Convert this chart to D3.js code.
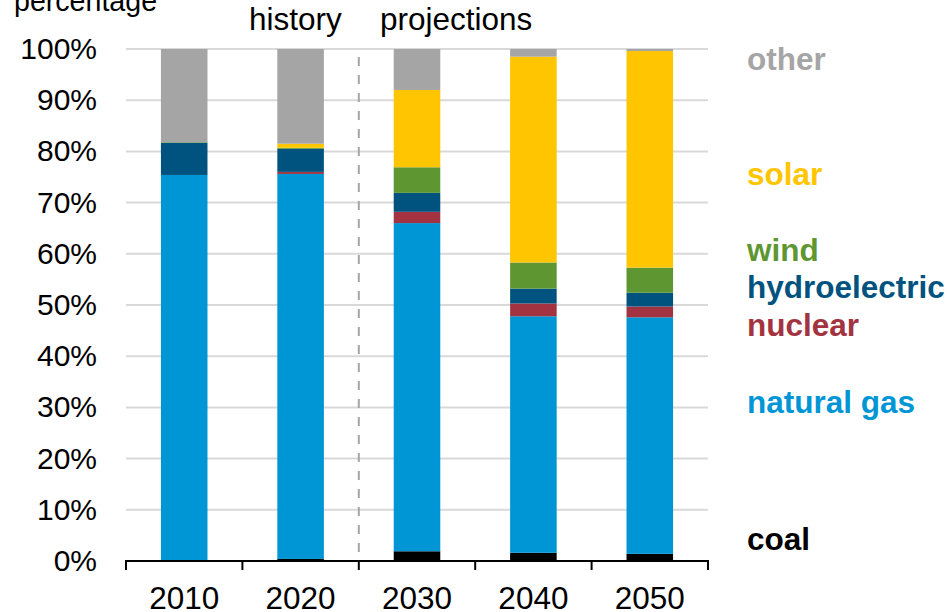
<!DOCTYPE html>
<html>
<head>
<meta charset="utf-8">
<script src="https://cdn.jsdelivr.net/npm/d3@7"></script>
<style>
  html, body { margin: 0; padding: 0; background: #fff; }
  svg { display: block; font-family: "Liberation Sans", Arial, sans-serif; }
</style>
</head>
<body>
<svg id="chart" width="949" height="612"></svg>
<script>
const years = ["2010", "2020", "2030", "2040", "2050"];
const seriesNames = ["coal", "natural gas", "nuclear", "hydroelectric", "wind", "solar", "other"];
const coal         = [0.0, 0.4, 1.9, 1.6, 1.4];
const naturalGas   = [75.4, 75.2, 64.1, 46.2, 46.2];
const nuclear      = [0.0, 0.4, 2.2, 2.5, 2.1];
const hydroelectric= [6.3, 4.5, 3.7, 2.9, 2.7];
const wind         = [0.1, 0.2, 5.0, 5.1, 4.9];
const solar        = [0.0, 0.8, 15.1, 40.2, 42.3];
const other        = [18.2, 18.5, 8.0, 1.5, 0.4];
const yTicks = [0, 10, 20, 30, 40, 50, 60, 70, 80, 90, 100];
const colors = ["#000000", "#0096D6", "#A33340", "#00537E", "#5E9732", "#FFC600", "#A5A5A5"];
const legendLabels = ["coal", "natural gas", "nuclear", "hydroelectric", "wind", "solar", "other"];
const legendY = [550, 413, 336, 298, 261, 185, 70];

const seriesValues = [coal, naturalGas, nuclear, hydroelectric, wind, solar, other];
const table = years.map((y, i) => {
  const row = { year: y };
  seriesNames.forEach((s, k) => row[s] = seriesValues[k][i]);
  return row;
});

const svg = d3.select("#chart");
const x = d3.scaleBand().domain(years).range([126, 708]).paddingInner(0.6).paddingOuter(0.3);
const y = d3.scaleLinear().domain([0, 100]).range([561, 49]);

// gridlines
svg.append("g").selectAll("line").data(yTicks.filter(d => d > 0)).join("line")
  .attr("x1", 126).attr("x2", 708)
  .attr("y1", d => y(d)).attr("y2", d => y(d))
  .attr("stroke", "#D9D9D9").attr("stroke-width", 2);

// y tick labels
svg.append("g").selectAll("text").data(yTicks).join("text")
  .attr("x", 97).attr("y", d => y(d) + 10)
  .attr("text-anchor", "end").attr("font-size", 30).attr("fill", "#000")
  .text(d => d + "%");

// stacked bars
const stack = d3.stack().keys(seriesNames)(table);
svg.append("g").selectAll("g").data(stack).join("g")
  .attr("fill", (d, i) => colors[i])
  .selectAll("rect").data(d => d).join("rect")
  .attr("x", d => x(d.data.year))
  .attr("width", x.bandwidth())
  .attr("y", d => y(d[1]))
  .attr("height", d => Math.max(0, y(d[0]) - y(d[1])));

// dashed divider between history and projections
const divX = x("2030") - x.step() * x.paddingInner() / 2;
svg.append("line")
  .attr("x1", divX).attr("x2", divX).attr("y1", 57).attr("y2", 561)
  .attr("stroke", "#A6A6A6").attr("stroke-width", 2).attr("stroke-dasharray", "9,9");

// x axis
const axisG = svg.append("g");
axisG.append("line").attr("x1", 126).attr("x2", 708).attr("y1", 561).attr("y2", 561)
  .attr("stroke", "#000").attr("stroke-width", 2);
const bounds = years.map(d => x(d) - x.step() * x.paddingInner() / 2).concat([708]);
bounds[0] = 126;
axisG.selectAll("line.tick").data(bounds).join("line").attr("class", "tick")
  .attr("x1", d => d).attr("x2", d => d).attr("y1", 560).attr("y2", 570)
  .attr("stroke", "#000").attr("stroke-width", 2);
axisG.selectAll("text").data(years).join("text")
  .attr("x", d => x(d) + x.bandwidth() / 2).attr("y", 609)
  .attr("text-anchor", "middle").attr("font-size", 31.5).attr("fill", "#000")
  .text(d => d);

// titles
svg.append("text").attr("x", 14).attr("y", 11).attr("font-size", 28.6).attr("fill", "#000").text("percentage");
svg.append("text").attr("x", 249).attr("y", 30).attr("font-size", 31.5).attr("fill", "#000").text("history");
svg.append("text").attr("x", 380).attr("y", 30).attr("font-size", 31.5).attr("fill", "#000").text("projections");

// legend labels
svg.append("g").selectAll("text").data(legendLabels).join("text")
  .attr("x", 747).attr("y", (d, i) => legendY[i])
  .attr("font-size", 31.5).attr("font-weight", "bold")
  .attr("fill", (d, i) => colors[i])
  .text(d => d);
</script>
</body>
</html>
